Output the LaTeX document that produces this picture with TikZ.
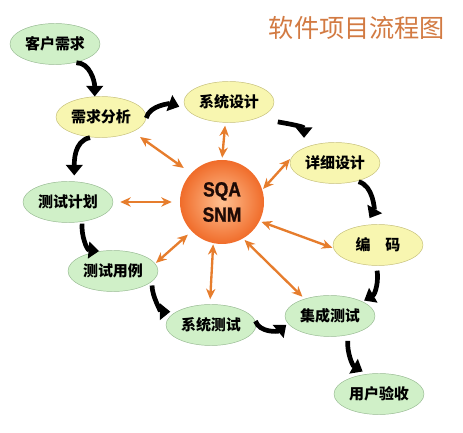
\documentclass[tikz,border=0pt]{standalone}
\usepackage{fontspec}
\setmainfont{Noto Sans CJK SC}
\newfontfamily\sqafont[FakeStretch=0.85, FakeBold=1.2]{Liberation Sans Bold}
\usetikzlibrary{shapes.geometric, arrows.meta}

\definecolor{ovalgreen}{RGB}{208,240,200}
\definecolor{edgegreen}{RGB}{150,185,145}
\definecolor{ovalyellow}{RGB}{248,246,176}
\definecolor{edgeyellow}{RGB}{196,190,120}
\definecolor{linkorange}{RGB}{230,125,45}
\definecolor{titleorange}{RGB}{210,122,66}

\begin{document}
\begin{tikzpicture}[x=0.03cm, y=-0.03cm]
\tikzstyle{greenoval} = [ellipse, minimum width=2.7cm, minimum height=1.23cm, inner sep=0pt, fill=ovalgreen, draw=edgegreen, font=\fontsize{12.8}{14}\selectfont\bfseries]
\tikzstyle{yellowoval} = [ellipse, minimum width=2.7cm, minimum height=1.23cm, inner sep=0pt, fill=ovalyellow, draw=edgeyellow, font=\fontsize{12.8}{14}\selectfont\bfseries]
\tikzstyle{ball} = [circle, minimum size=2.52cm, inner sep=0pt, align=center, inner color={rgb,255:red,255;green,192;blue,145}, outer color={rgb,255:red,240;green,108;blue,42}, text={rgb,255:red,30;green,10;blue,6}, font=\sqafont\fontsize{17.5}{21.5}\selectfont]
\tikzstyle{title} = [text=titleorange, font=\fontsize{21.5}{24}\selectfont]
\tikzstyle{arrow} = [line width=4pt, black, -{Triangle[length=9pt,width=14pt]}]
\tikzstyle{dblarrow} = [line width=2pt, linkorange, {Stealth[length=9pt,width=8pt]}-{Stealth[length=9pt,width=8pt]}]

\useasboundingbox (0,0) rectangle (463,433);

%node
\node (TT) [title] at (357,28) {软件项目流程图};
\node (SQA) [ball] at (222,202) {SQA\\SNM};

\node (KH) [greenoval] at (55,44) {客户需求};
\node (XF) [yellowoval] at (101,117) {需求分析};
\node (XS) [yellowoval] at (229,102) {系统设计};
\node (XX) [yellowoval] at (335,163) {详细设计};
\node (BM) [yellowoval] at (378,245) {编\hspace{1em}码};
\node (JC) [greenoval] at (330,316) {集成测试};
\node (YS) [greenoval] at (379,394) {用户验收};
\node (JH) [greenoval] at (68,202) {测试计划};
\node (YL) [greenoval] at (113,271) {测试用例};
\node (ST) [greenoval] at (211,325) {系统测试};

%lines to the centre
\draw [dblarrow, shorten <=0.27cm, shorten >=0.27cm] (XF.-25) -- (SQA.137);
\draw [dblarrow, shorten <=0.09cm, shorten >=0.06cm] (XS.-100) -- (SQA.90);
\draw [dblarrow, shorten <=0.06cm, shorten >=0.03cm] (XX.173) -- (SQA.17);
\draw [dblarrow, shorten <=0.21cm, shorten >=0.24cm] (JH.east) -- (SQA.180);
\draw [dblarrow, shorten <=0.03cm, shorten >=0.15cm] (YL.10) -- (SQA.224);
\draw [dblarrow, shorten <=0.15cm, shorten >=0.03cm] (ST.93) -- (SQA.-102);
\draw [dblarrow, shorten <=0.09cm, shorten >=0.06cm] (JC.146) -- (SQA.-60);
\draw [dblarrow, shorten <=0.03cm, shorten >=0.06cm] (BM.184) -- (SQA.-27);

%flow arrows
\draw [arrow, shorten <=0.06cm] (KH.-44) to [out=0, in=90] (XF.107);
\draw [arrow, shorten <=0.09cm, shorten >=0.24cm] (XF.-5) to [out=75, in=160] (XS.190);
\draw [arrow, shorten <=0.63cm, shorten >=0.3cm] (XS.-30) to [out=-10, in=90] (XX.154);
\draw [arrow, shorten <=0.06cm, shorten >=0.24cm] (XX.-40) to [out=-15, in=60] (BM.122);
\draw [arrow, shorten <=0.15cm, shorten >=0.06cm] (BM.-95) to [out=-80, in=30] (JC.24);
\draw [arrow, shorten >=0.06cm] (ST.5) to [out=-70, in=-140] (JC.190);
\draw [arrow, shorten <=0.18cm, shorten >=0.15cm] (JC.-46) to [out=-95, in=150] (YS.121);
\draw [arrow, shorten <=0.06cm, shorten >=0.18cm] (XF.-114) to [out=-170, in=90] (JH.73);
\draw [arrow, shorten <=0.06cm, shorten >=0.03cm] (JH.-54) to [out=-95, in=175] (YL.123);
\draw [arrow, shorten <=0.12cm, shorten >=0.18cm] (YL.-15) to [out=-90, in=180] (ST.159);
\end{tikzpicture}
\end{document}
